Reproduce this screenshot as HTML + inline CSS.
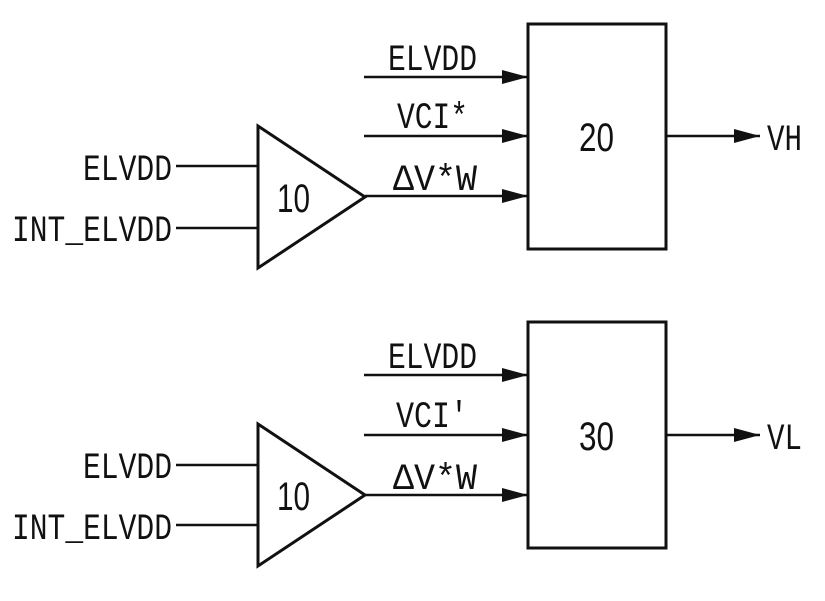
<!DOCTYPE html>
<html><head><style>body{margin:0;background:#fff}svg{display:block}</style></head><body>
<svg width="825" height="601" viewBox="0 0 825 601" xmlns="http://www.w3.org/2000/svg">
<defs><marker id="a" markerWidth="26" markerHeight="16" refX="26" refY="8" orient="auto" markerUnits="userSpaceOnUse"><path d="M0,1 L26,8 L0,15 Z" fill="#111"/></marker></defs>
<g stroke="#111" fill="none" font-family="Liberation Mono, monospace" font-size="37">
<path d="M258,126 L365,197 L258,268 Z" stroke-width="3"/>
<line x1="176" y1="166" x2="258" y2="166" stroke-width="2.5"/>
<line x1="176" y1="228" x2="258" y2="228" stroke-width="2.5"/>
<rect x="528" y="24" width="138" height="225" stroke-width="3"/>
<line x1="364" y1="77" x2="528" y2="77" stroke-width="2.5" marker-end="url(#a)"/>
<line x1="364" y1="136" x2="528" y2="136" stroke-width="2.5" marker-end="url(#a)"/>
<line x1="365" y1="196" x2="528" y2="196" stroke-width="2.5" marker-end="url(#a)"/>
<line x1="666" y1="136" x2="760" y2="136" stroke-width="2.5" marker-end="url(#a)"/>
<g stroke="none" fill="#111">
<text x="83" y="180" textLength="89" lengthAdjust="spacingAndGlyphs">ELVDD</text>
<text x="12" y="241" textLength="160" lengthAdjust="spacingAndGlyphs">INT_ELVDD</text>
<text x="277" y="212" textLength="33" lengthAdjust="spacingAndGlyphs" font-family="Liberation Sans, sans-serif" font-size="40">10</text>
<text x="579" y="151" textLength="35" lengthAdjust="spacingAndGlyphs" font-family="Liberation Sans, sans-serif" font-size="40">20</text>
<text x="388" y="70" textLength="89" lengthAdjust="spacingAndGlyphs">ELVDD</text>
<text x="397" y="128" textLength="71" lengthAdjust="spacingAndGlyphs">VCI*</text>
<text x="393" y="190" textLength="84" lengthAdjust="spacingAndGlyphs">ΔV*W</text>
<text x="767" y="150" textLength="35" lengthAdjust="spacingAndGlyphs">VH</text>
</g></g>
<g stroke="#111" fill="none" font-family="Liberation Mono, monospace" font-size="37" transform="translate(0,298)">
<path d="M258,126 L365,197 L258,268 Z" stroke-width="3"/>
<line x1="176" y1="167" x2="258" y2="167" stroke-width="2.5"/>
<line x1="176" y1="227" x2="258" y2="227" stroke-width="2.5"/>
<rect x="528" y="24" width="138" height="226" stroke-width="3"/>
<line x1="364" y1="77" x2="528" y2="77" stroke-width="2.5" marker-end="url(#a)"/>
<line x1="364" y1="137" x2="528" y2="137" stroke-width="2.5" marker-end="url(#a)"/>
<line x1="365" y1="197" x2="528" y2="197" stroke-width="2.5" marker-end="url(#a)"/>
<line x1="666" y1="137" x2="760" y2="137" stroke-width="2.5" marker-end="url(#a)"/>
<g stroke="none" fill="#111">
<text x="83" y="180" textLength="89" lengthAdjust="spacingAndGlyphs">ELVDD</text>
<text x="12" y="241" textLength="160" lengthAdjust="spacingAndGlyphs">INT_ELVDD</text>
<text x="277" y="212" textLength="33" lengthAdjust="spacingAndGlyphs" font-family="Liberation Sans, sans-serif" font-size="40">10</text>
<text x="579" y="152" textLength="35" lengthAdjust="spacingAndGlyphs" font-family="Liberation Sans, sans-serif" font-size="40">30</text>
<text x="388" y="70" textLength="89" lengthAdjust="spacingAndGlyphs">ELVDD</text>
<text x="396" y="129" textLength="72" lengthAdjust="spacingAndGlyphs">VCI'</text>
<text x="393" y="191" textLength="84" lengthAdjust="spacingAndGlyphs">ΔV*W</text>
<text x="767" y="151" textLength="35" lengthAdjust="spacingAndGlyphs">VL</text>
</g></g>
</svg>
</body></html>
